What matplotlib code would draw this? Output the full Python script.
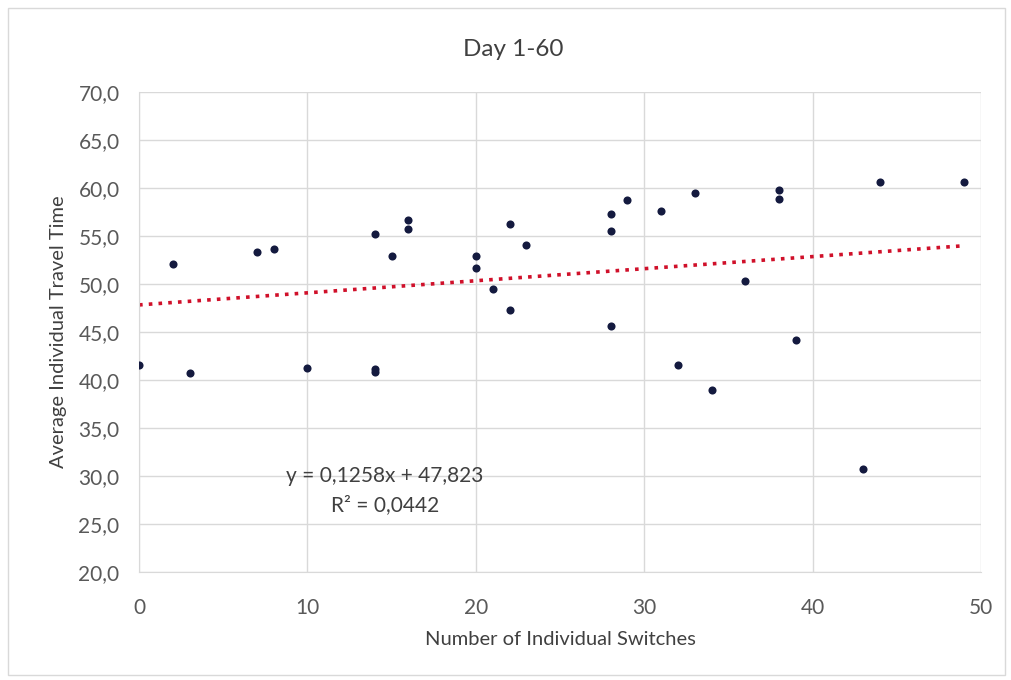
import matplotlib
matplotlib.use("Agg")
import matplotlib.pyplot as plt
import numpy as np
from matplotlib.patches import Rectangle

plt.rcParams['font.family'] = ['Lato', 'DejaVu Sans']

switches = [0, 2, 3, 7, 8, 10, 14, 14, 14, 15, 16, 16, 20, 20, 21, 22, 22, 23,
            28, 28, 28, 29, 31, 32, 33, 34, 36, 38, 38, 39, 43, 44, 49]
travel_time = [41.6, 52.1, 40.7, 53.3, 53.6, 41.3, 55.2, 41.1, 40.8, 52.9, 56.7, 55.7,
               52.9, 51.7, 49.5, 56.2, 47.3, 54.1, 57.3, 55.5, 45.6, 58.7, 57.6, 41.6,
               59.5, 39.0, 50.3, 59.8, 58.9, 44.2, 30.7, 60.6, 60.6]
slope, intercept = 0.1258, 47.823
r_squared = 0.0442
x_ticks = [0, 10, 20, 30, 40, 50]
y_ticks = [20, 25, 30, 35, 40, 45, 50, 55, 60, 65, 70]

fig = plt.figure(figsize=(10.12, 6.8), dpi=100)
fig.patches.append(Rectangle((0.008, 0.008), 0.985, 0.98, transform=fig.transFigure,
                             fill=False, edgecolor='#d9d9d9', linewidth=1.0))
ax = fig.add_axes([0.1374, 0.1588, 0.832, 0.7059])

ax.scatter(switches, travel_time, s=34, color='#141a3f', zorder=3, linewidths=0)
xl = np.array([min(switches), max(switches)])
ax.plot(xl, slope * xl + intercept, color='#d0102a', linestyle=(0, (1, 1.7)),
        linewidth=2.6, zorder=2)

ax.set_xlim(0, 50)
ax.set_ylim(20, 70)
ax.set_xticks(x_ticks)
ax.set_yticks(y_ticks)
ax.set_xticklabels([str(t) for t in x_ticks])
ax.set_yticklabels([f"{t:.1f}".replace('.', ',') for t in y_ticks])
ax.grid(True, color='#d9d9d9', linewidth=1.0)
ax.set_axisbelow(True)
for s in ['top', 'right']:
    ax.spines[s].set_visible(False)
for s in ['left', 'bottom']:
    ax.spines[s].set_color('#d9d9d9')
ax.tick_params(length=0, labelsize=15, colors='#595959')
ax.tick_params(axis='y', pad=14)
ax.tick_params(axis='x', pad=19)

ax.set_xlabel('Number of Individual Switches', fontsize=14.5, color='#404040', labelpad=9)
ax.set_ylabel('Average Individual Travel Time', fontsize=14.5, color='#404040', labelpad=8)
fig.text(0.507, 0.927, 'Day 1-60', ha='center', va='center', fontsize=17.5, color='#404040')

ax.text(14.6, 30.0, 'y = 0,1258x + 47,823', ha='center', va='center', fontsize=15, color='#404040')
ax.text(14.6, 27.0, 'R² = 0,0442', ha='center', va='center', fontsize=15, color='#404040')

fig.savefig('out.png', dpi=100)
